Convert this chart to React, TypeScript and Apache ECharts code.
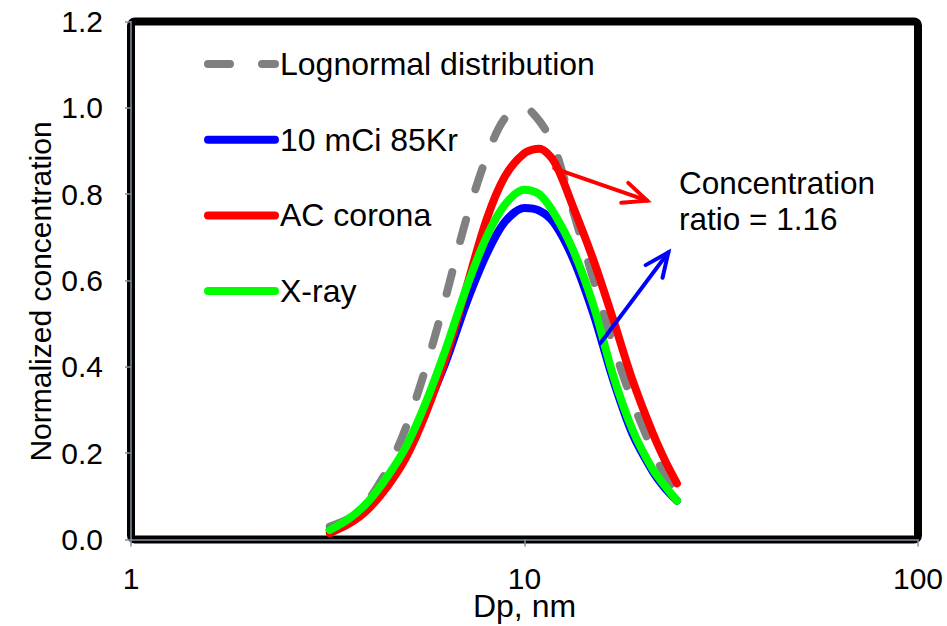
import React, { useEffect, useRef } from 'react';
import * as echarts from 'echarts';

// Particle diameter (nm)
const diameters = [3.2, 3.6, 4.0, 4.5, 5.0, 5.6, 6.3, 7.1, 8.0, 8.9, 10.0, 10.9, 11.9, 13.3, 15.0, 16.8, 18.8, 21.1, 22.7, 24.4];
// Normalized concentrations
const lognormal = [0.03, 0.05, 0.09, 0.165, 0.26, 0.395, 0.56, 0.74, 0.885, 0.975, 1.0, 0.97, 0.91, 0.76, 0.6, 0.45, 0.32, 0.21, 0.15, 0.1];
const kr85 = [0.022, 0.048, 0.085, 0.14, 0.21, 0.3, 0.41, 0.545, 0.66, 0.735, 0.768, 0.762, 0.733, 0.65, 0.52, 0.37, 0.245, 0.16, 0.12, 0.09];
const acCorona = [0.015, 0.038, 0.07, 0.125, 0.19, 0.29, 0.42, 0.58, 0.74, 0.84, 0.895, 0.905, 0.875, 0.77, 0.645, 0.51, 0.37, 0.25, 0.185, 0.13];
const xray = [0.022, 0.05, 0.087, 0.148, 0.215, 0.315, 0.44, 0.58, 0.7, 0.775, 0.81, 0.8, 0.755, 0.67, 0.54, 0.38, 0.255, 0.165, 0.125, 0.09];

const seriesNames = ['Lognormal distribution', '10 mCi 85Kr', 'AC corona', 'X-ray'];
const seriesValues = [lognormal, kr85, acCorona, xray];
const seriesColors = ['#808080', '#0000FF', '#FF0000', '#00FF00'];

const xTicks = [1, 10, 100];
const yTickLabels = ['0.0', '0.2', '0.4', '0.6', '0.8', '1.0', '1.2'];

// Annotation arrows in data coordinates [Dp, concentration]
const redArrow = { from: [11.9, 0.86], to: [20.5, 0.785] };
const blueArrow = { from: [15.6, 0.455], to: [23.2, 0.665] };
const annotationText = 'Concentration\nratio = 1.16';

const FONT = '"Liberation Sans", Arial, Helvetica, sans-serif';
const AXIS_COLOR = '#868FA0';

export default function App() {
  const ref = useRef<HTMLDivElement>(null);

  useEffect(() => {
    if (!ref.current) return;
    const chart = echarts.init(ref.current, undefined, { renderer: 'svg' });

    const W = 947;
    const H = 626;
    const gridLeft = 131;
    const gridTop = 21.5;
    const gridRight = 29;
    const gridBottom = 86.5;

    const series = seriesNames.map((name, i) => ({
      name,
      type: 'line',
      data: diameters.map((d, j) => [d, seriesValues[i][j]]),
      smooth: 0.3,
      symbol: 'none',
      showSymbol: false,
      z: 2,
      lineStyle: {
        color: seriesColors[i],
        width: 8,
        type: i === 0 ? [22, 32] : 'solid',
        cap: 'round',
        join: 'round',
      },
      itemStyle: { color: seriesColors[i] },
    }));

    chart.setOption({
      animation: false,
      backgroundColor: '#fff',
      textStyle: { fontFamily: FONT },
      grid: {
        left: gridLeft,
        top: gridTop,
        right: gridRight,
        bottom: gridBottom,
        containLabel: false,
        outerBoundsMode: 'none',
      },
      legend: {
        orient: 'vertical',
        left: 199,
        top: 43,
        itemWidth: 67,
        itemHeight: 30,
        itemGap: 43.7,
        data: seriesNames,
        selectedMode: false,
        lineStyle: { width: 8 },
        itemStyle: { opacity: 0, borderWidth: 0 },
        textStyle: { fontSize: 32, color: '#000', fontFamily: FONT, lineHeight: 30 },
      },
      xAxis: {
        type: 'log',
        logBase: 10,
        min: xTicks[0],
        max: xTicks[xTicks.length - 1],
        z: 5,
        name: 'Dp, nm',
        nameLocation: 'middle',
        nameGap: 52.5,
        nameMoveOverlap: false,
        nameTextStyle: { fontSize: 32, lineHeight: 28, color: '#000', fontFamily: FONT },
        axisLine: { show: true, lineStyle: { color: AXIS_COLOR, width: 1.5 } },
        axisTick: { show: true, inside: false, length: 7, lineStyle: { color: AXIS_COLOR, width: 1.5 } },
        minorTick: { show: false },
        splitLine: { show: false },
        axisLabel: {
          fontSize: 30,
          lineHeight: 26,
          color: '#000',
          fontFamily: FONT,
          margin: 25.5,
          formatter: (v: number) => String(Math.round(v)),
        },
      },
      yAxis: {
        type: 'value',
        min: 0,
        max: 1.2,
        interval: 0.2,
        z: 5,
        name: 'Normalized concentration',
        nameLocation: 'middle',
        nameGap: 76,
        nameMoveOverlap: false,
        nameTextStyle: { fontSize: 30, color: '#000', fontFamily: FONT, padding: [0, 22, 0, 0] },
        axisLine: { show: true, lineStyle: { color: AXIS_COLOR, width: 1.5 } },
        axisTick: { show: true, inside: false, length: 6, lineStyle: { color: AXIS_COLOR, width: 1.5 } },
        splitLine: { show: false },
        axisLabel: {
          fontSize: 30,
          color: '#000',
          fontFamily: FONT,
          margin: 28,
          formatter: (v: number) => yTickLabels[Math.round(v / 0.2)] ?? v.toFixed(1),
        },
      },
      series,
    });

    const toPx = (p: number[]) => chart.convertToPixel({ xAxisIndex: 0, yAxisIndex: 0 }, p) as number[];
    const arrowGraphics = (arrow: { from: number[]; to: number[] }, color: string) => {
      const a = toPx(arrow.from);
      const b = toPx(arrow.to);
      const ang = Math.atan2(a[1] - b[1], a[0] - b[0]);
      const len = 26;
      const spread = (24 * Math.PI) / 180;
      const h1 = [b[0] + len * Math.cos(ang + spread), b[1] + len * Math.sin(ang + spread)];
      const h2 = [b[0] + len * Math.cos(ang - spread), b[1] + len * Math.sin(ang - spread)];
      return [
        {
          type: 'line',
          z: 10,
          shape: { x1: a[0], y1: a[1], x2: b[0], y2: b[1] },
          style: { stroke: color, lineWidth: 4, lineCap: 'round' },
        },
        {
          type: 'polyline',
          z: 10,
          shape: { points: [h1, b, h2] },
          style: { stroke: color, lineWidth: 4, fill: 'none', lineCap: 'round', lineJoin: 'miter' },
        },
      ];
    };

    const plotW = W - gridLeft - gridRight;
    const plotH = H - gridTop - gridBottom;

    chart.setOption({
      graphic: [
        {
          type: 'rect',
          z: 1,
          shape: { x: gridLeft, y: gridTop, width: plotW, height: plotH, r: 4 },
          style: { fill: 'none', stroke: '#000', lineWidth: 8 },
        },
        ...arrowGraphics(redArrow, '#FF0000'),
        ...arrowGraphics(blueArrow, '#0000FF'),
        {
          type: 'text',
          z: 10,
          x: 679,
          y: 165,
          style: {
            text: annotationText,
            fontSize: 31.5,
            fontFamily: FONT,
            lineHeight: 36,
            fill: '#000',
            verticalAlign: 'top',
            align: 'left',
          },
        },
      ],
    });

    return () => chart.dispose();
  }, []);

  return (
    <div
      ref={ref}
      style={{ position: 'fixed', left: 0, top: 0, width: 947, height: 626, background: '#fff' }}
    />
  );
}
